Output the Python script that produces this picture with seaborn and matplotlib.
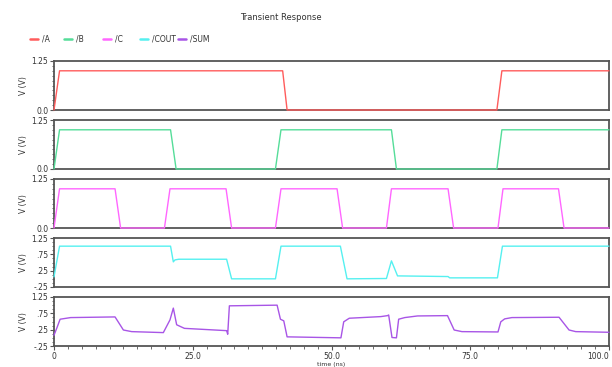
import matplotlib
matplotlib.use("Agg")
import matplotlib.pyplot as plt
from matplotlib.ticker import MultipleLocator, FixedLocator, FixedFormatter
from matplotlib.lines import Line2D
import seaborn as sns
import pandas as pd

# Breakpoints of each transient waveform (time in ns, voltage in V)
a_t = [0, 1.0, 41.2, 42.0, 79.8, 80.7, 100]
a_v = [0, 1.0, 1.0, 0.0, 0.0, 1.0, 1.0]

b_t = [0, 1.0, 21.0, 22.0, 39.9, 40.9, 60.8, 61.7, 79.8, 80.7, 100]
b_v = [0, 1.0, 1.0, 0.0, 0.0, 1.0, 1.0, 0.0, 0.0, 1.0, 1.0]

c_t = [0, 1.0, 11.0, 12.0, 19.9, 20.9, 31.0, 32.0, 39.9, 40.9, 51.0, 52.0,
       59.9, 60.8, 71.0, 72.0, 80.0, 80.9, 90.9, 91.9, 100]
c_v = [0, 1.0, 1.0, 0.0, 0.0, 1.0, 1.0, 0.0, 0.0, 1.0, 1.0, 0.0,
       0.0, 1.0, 1.0, 0.0, 0.0, 1.0, 1.0, 0.0, 0.0]

cout_t = [0, 1.0, 21.0, 21.5, 21.8, 22.5, 31.1, 32.0, 39.9, 40.9, 51.6, 52.8,
          59.9, 60.8, 61.9, 71.0, 71.3, 79.9, 80.8, 100]
cout_v = [0.06, 1.0, 1.0, 0.52, 0.58, 0.60, 0.60, 0.0, 0.0, 1.0, 1.0, 0.0,
          0.01, 0.55, 0.09, 0.07, 0.03, 0.03, 1.0, 1.0]

sum_t = [0, 0.6, 1.1, 3.0, 11.0, 12.5, 14.0, 19.7, 20.9, 21.5, 22.1, 23.5,
         31.1, 31.3, 31.6, 40.2, 40.8, 41.4, 42.0, 51.7, 52.2, 53.2, 58.9,
         60.1, 60.3, 60.9, 61.7, 62.1, 63.2, 65.5, 70.9, 72.1, 73.5, 80.0,
         80.5, 81.2, 82.5, 91.0, 92.8, 94.0, 100]
sum_v = [0.08, 0.34, 0.57, 0.62, 0.64, 0.24, 0.19, 0.16, 0.55, 0.91, 0.40, 0.29,
         0.22, 0.11, 0.98, 1.0, 0.57, 0.52, 0.03, 0.0, 0.49, 0.60, 0.65,
         0.68, 0.70, 0.01, 0.0, 0.57, 0.62, 0.67, 0.68, 0.24, 0.19, 0.18,
         0.49, 0.58, 0.62, 0.63, 0.24, 0.19, 0.17]

names = ["/A", "/B", "/C", "/COUT", "/SUM"]
colors = ["#ff5c5c", "#55dd99", "#ff66ff", "#55f0f0", "#a855e6"]
series = [(a_t, a_v), (b_t, b_v), (c_t, c_v), (cout_t, cout_v), (sum_t, sum_v)]

x_ticks = [0, 25, 50, 75, 100]
x_labels = ["0", "25.0", "50.0", "75.0", "100.0"]
y_ticks_digital = [0.0, 1.25]
y_labels_digital = ["0.0", "1.25"]
y_ticks_analog = [-0.25, 0.25, 0.75, 1.25]
y_labels_analog = ["-.25", ".25", ".75", "1.25"]

sns.set_theme(style="white")
plt.rcParams["font.family"] = ["DejaVu Sans"]

W, H = 612, 367
fig = plt.figure(figsize=(W / 100, H / 100), dpi=100)
fig.patch.set_facecolor("white")

left_px, right_px = 54, 609
panel_tops = [61, 120, 179, 238, 297]
panel_h = 49
frame_col = "#555555"
text_col = "#333333"

axes = []
for i, (name, col, (tt, vv)) in enumerate(zip(names, colors, series)):
    top = panel_tops[i]
    ax = fig.add_axes([left_px / W, (H - top - panel_h) / H,
                       (right_px - left_px) / W, panel_h / H])
    df = pd.DataFrame({"time": tt, "V": vv})
    sns.lineplot(data=df, x="time", y="V", ax=ax, color=col, linewidth=1.0,
                 estimator=None, sort=False, zorder=3)
    for ln in ax.get_lines():
        ln.set_clip_on(False)
    ax.set_xlim(0, 100)
    if i < 3:
        ax.set_ylim(0, 1.25)
        ax.yaxis.set_major_locator(FixedLocator(y_ticks_digital))
        ax.yaxis.set_major_formatter(FixedFormatter(y_labels_digital))
    else:
        ax.set_ylim(-0.25, 1.25)
        ax.yaxis.set_major_locator(FixedLocator(y_ticks_analog))
        ax.yaxis.set_major_formatter(FixedFormatter(y_labels_analog))
    ax.yaxis.set_minor_locator(MultipleLocator(0.125))
    ax.set_ylabel("V (V)", fontsize=5.5, color=text_col, labelpad=0)
    ax.yaxis.set_label_coords(-0.046, 0.5)
    for s in ax.spines.values():
        s.set_color(frame_col)
        s.set_linewidth(1.3)
        s.set_zorder(2)
    ax.tick_params(axis="y", which="major", direction="out", length=3,
                   width=0.8, color=frame_col, labelsize=5.5,
                   labelcolor=text_col, pad=1, left=True)
    ax.tick_params(axis="y", which="minor", direction="out", length=1.8,
                   width=0.6, color=frame_col, left=True)
    if i < 4:
        ax.set_xticks([])
        ax.set_xlabel("")
    else:
        ax.xaxis.set_major_locator(FixedLocator(x_ticks))
        ax.xaxis.set_major_formatter(FixedFormatter(x_labels))
        ax.xaxis.set_minor_locator(MultipleLocator(2.5))
        ax.tick_params(axis="x", which="major", direction="out", length=3,
                       width=0.8, color=frame_col, labelsize=5.5,
                       labelcolor=text_col, pad=1, bottom=True)
        ax.tick_params(axis="x", which="minor", direction="out", length=1.8,
                       width=0.6, color=frame_col, bottom=True)
        ax.set_xlabel("")
        # keep the last time label inside the right edge
        fig.canvas.draw()
        ax.get_xticklabels()[-1].set_horizontalalignment("right")
    axes.append(ax)

# Time axis caption, kept just inside the bottom edge
fig.text((left_px + right_px) / 2 / W, 0.3 / H, "time (ns)", fontsize=4.5,
         color=text_col, ha="center", va="bottom")

# Title and legend row
fig.text(281 / W, 1 - 17 / H, "Transient Response", fontsize=6,
         color=text_col, ha="center", va="center")
legend_x = [30, 64, 103, 140, 178]
legend_y = 1 - 39 / H
for name, col, lx in zip(names, colors, legend_x):
    fig.add_artist(Line2D([lx / W, (lx + 8) / W], [legend_y, legend_y],
                          color=col, linewidth=1.8, transform=fig.transFigure))
    fig.text((lx + 12) / W, legend_y, name, fontsize=5.5, color=text_col,
             ha="left", va="center")

fig.savefig("out.png", dpi=100, facecolor="white")
